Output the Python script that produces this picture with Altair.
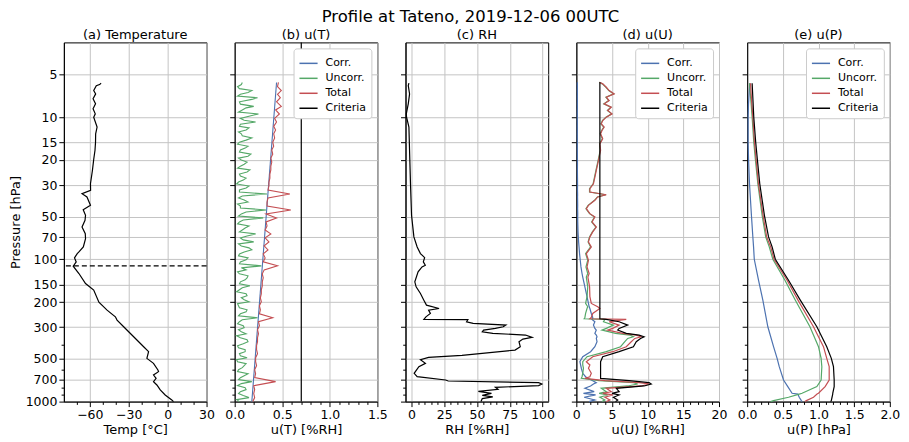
import altair as alt
import pandas as pd

# ------------------------------------------------------------------ text
TITLE = "Profile at Tateno, 2019-12-06 00UTC"
PANEL_TITLES = ["(a) Temperature", "(b) u(T)", "(c) RH", "(d) u(U)", "(e) u(P)"]
X_TITLES = ["Temp [°C]", "u(T) [%RH]", "RH [%RH]", "u(U) [%RH]", "u(P) [hPa]"]
Y_TITLE = "Pressure [hPa]"
SERIES = ["Corr.", "Uncorr.", "Total", "Criteria"]
SERIES_COLORS = ["#4C72B0", "#55A868", "#C44E52", "#000000"]

# ------------------------------------------------------------------ ticks
Y_MAJOR = [5, 10, 15, 20, 30, 50, 70, 100, 150, 200, 300, 500, 700, 1000]
Y_MINOR = [400, 600, 800, 900]
XA_MAJOR = [-60, -30, 0, 30]
XA_MINOR = [-70, -50, -40, -20, -10, 10, 20]
XB_MAJOR = [0.0, 0.5, 1.0, 1.5]
XB_MINOR = [0.1, 0.2, 0.3, 0.4, 0.6, 0.7, 0.8, 0.9, 1.1, 1.2, 1.3, 1.4]
XC_MAJOR = [0, 25, 50, 75, 100]
XC_MINOR = [5, 10, 15, 20, 30, 35, 40, 45, 55, 60, 65, 70, 80, 85, 90, 95]
XD_MAJOR = [0, 5, 10, 15, 20]
XD_MINOR = [1, 2, 3, 4, 6, 7, 8, 9, 11, 12, 13, 14, 16, 17, 18, 19]
XE_MAJOR = [0.0, 0.5, 1.0, 1.5, 2.0]
XE_MINOR = [0.1, 0.2, 0.3, 0.4, 0.6, 0.7, 0.8, 0.9, 1.1, 1.2, 1.3, 1.4, 1.6, 1.7, 1.8, 1.9]

# ------------------------------------------------------------------ (a) temperature
P_T = [5.77, 5.9, 6.0, 6.5, 6.86, 7.43, 8.06, 8.74, 9.48, 10.0, 11.75, 13.1, 15.0, 17.1,
       19.8, 23.7, 29.4, 32.7, 34.5, 36.4, 41.7, 44.7, 49.0, 53.1, 59.2, 65.9, 71.4, 81.7,
       88.6, 91.0, 97.6, 104.2, 111.7, 125.7, 147.9, 164.5, 199.9, 227.4, 253.4, 267.3,
       297.8, 349.9, 411.2, 445.7, 496.6, 538.3, 599.8, 615.7, 650.0, 686.0, 724.0, 764.0,
       828.0, 898.0, 973.0, 1000.0]
TEMP = [-51.3, -52.5, -55.0, -57.0, -55.5, -57.5, -55.6, -57.5, -55.8, -57.0, -54.4, -55.5,
        -55.6, -56.0, -57.0, -58.0, -59.5, -59.4, -66.0, -62.2, -59.5, -65.1, -63.3, -63.7,
        -66.0, -63.5, -63.3, -65.0, -68.4, -69.7, -71.8, -70.5, -72.8, -68.4, -63.3, -57.0,
        -53.0, -46.7, -40.3, -39.0, -33.9, -26.2, -18.5, -14.7, -16.0, -10.9, -7.5, -7.0,
        -10.9, -8.9, -10.9, -8.3, -5.7, -1.9, 3.2, 4.5]
TROPOPAUSE = [111.0]

# ------------------------------------------------------------------ (b) u(T)
P_B = [1000, 937.4, 878.7, 823.7, 772.1, 723.8, 678.5, 636.0, 596.2, 558.9, 523.9, 491.1,
       460.3, 431.5, 404.5, 379.2, 355.4, 333.2, 312.3, 292.8, 274.4, 257.3, 241.2, 226.1,
       211.9, 198.7, 186.2, 174.6, 163.6, 153.4, 143.8, 134.8, 126.4, 118.5, 111.0, 104.1,
       97.6, 91.5, 85.7, 80.4, 75.3, 70.6, 66.2, 62.1, 58.2, 54.5, 51.1, 47.9, 44.9, 42.1,
       39.5, 37.0, 34.7, 32.5, 30.5, 28.6, 26.8, 25.1, 23.5, 22.1, 20.7, 19.4, 18.2, 17.0,
       16.0, 15.0, 14.0, 13.1, 12.3, 11.6, 10.8, 10.2, 9.5, 8.9, 8.4, 7.8, 7.3, 6.9, 6.5,
       6.1, 5.7]
P_B_MID = [968.2, 907.6, 850.7, 797.5, 747.6, 700.8, 656.9, 615.8, 577.3, 541.1, 507.2, 475.5,
           445.7, 417.8, 391.6, 367.1, 344.1, 322.6, 302.4, 283.5, 265.7, 249.1, 233.5, 218.9,
           205.2, 192.3, 180.3, 169.0, 158.4, 148.5, 139.2, 130.5, 122.4, 114.7, 107.5, 100.8,
           94.5, 88.6, 83.0, 77.8, 72.9, 68.4, 64.1, 60.1, 56.3, 52.8, 49.5, 46.4, 43.5, 40.8,
           38.2, 35.8, 33.6, 31.5, 29.5, 27.7, 25.9, 24.3, 22.8, 21.4, 20.0, 18.8, 17.6, 16.5,
           15.5, 14.5, 13.5, 12.7, 11.9, 11.2, 10.5, 9.8, 9.2, 8.6, 8.1, 7.5, 7.1, 6.7, 6.3, 5.9]
UT_UNCORR = [0.05, 0.15, 0.04, 0.12, 0.03, 0.18, 0.06, 0.14, 0.04, 0.10, 0.03, 0.13, 0.05,
             0.11, 0.03, 0.14, 0.06, 0.12, 0.04, 0.09, 0.05, 0.24, 0.06, 0.13, 0.04, 0.15,
             0.07, 0.12, 0.05, 0.16, 0.06, 0.13, 0.05, 0.12, 0.28, 0.06, 0.14, 0.05, 0.18,
             0.07, 0.20, 0.06, 0.22, 0.08, 0.15, 0.05, 0.30, 0.07, 0.33, 0.06, 0.14, 0.04,
             0.34, 0.05, 0.15, 0.04, 0.12, 0.05, 0.16, 0.06, 0.13, 0.04, 0.17, 0.06, 0.14,
             0.05, 0.18, 0.07, 0.12, 0.05, 0.22, 0.06, 0.25, 0.08, 0.20, 0.05, 0.24, 0.06,
             0.18, 0.03, 0.08]
UT_UNCORR_MID = [0.02, 0.09, 0.06, 0.11, 0.07, 0.04, 0.10, 0.03, 0.08, 0.12, 0.02, 0.06, 0.11,
                 0.04, 0.09, 0.13, 0.02, 0.07, 0.10, 0.03, 0.08, 0.04, 0.12, 0.05, 0.03, 0.10,
                 0.13, 0.02, 0.08, 0.05, 0.11, 0.14, 0.03, 0.07, 0.05, 0.12, 0.04, 0.10, 0.15,
                 0.04, 0.09, 0.13, 0.05, 0.11, 0.03, 0.09, 0.04, 0.12, 0.06, 0.03, 0.10, 0.08,
                 0.05, 0.12, 0.02, 0.09, 0.06, 0.13, 0.03, 0.10, 0.07, 0.14, 0.05, 0.11, 0.03,
                 0.12, 0.08, 0.04, 0.15, 0.06, 0.10, 0.16, 0.04, 0.12, 0.06, 0.18, 0.03, 0.14,
                 0.05, 0.07]
UT_TOTAL = [0.19, 0.21, 0.20, 0.21, 0.20, 0.43, 0.21, 0.22, 0.21, 0.23, 0.22, 0.22, 0.24,
            0.23, 0.23, 0.24, 0.24, 0.25, 0.24, 0.26, 0.25, 0.40, 0.26, 0.27, 0.26, 0.28,
            0.27, 0.28, 0.28, 0.29, 0.29, 0.30, 0.29, 0.31, 0.45, 0.30, 0.32, 0.30, 0.35,
            0.31, 0.36, 0.32, 0.38, 0.32, 0.34, 0.33, 0.44, 0.33, 0.59, 0.34, 0.34, 0.35,
            0.58, 0.35, 0.36, 0.36, 0.37, 0.37, 0.38, 0.38, 0.39, 0.38, 0.40, 0.39, 0.41,
            0.40, 0.42, 0.41, 0.43, 0.41, 0.44, 0.42, 0.47, 0.43, 0.49, 0.44, 0.48, 0.45,
            0.49, 0.45, 0.46]
P_B_CORR = [1000, 5.7]
UT_CORR = [0.18, 0.44]
UT_CRITERIA = [0.7]

# ------------------------------------------------------------------ (c) RH
P_RH = [5.77, 6.0, 6.86, 8.06, 9.48, 10.0, 11.75, 20.1, 29.4, 49.0, 69.5, 81.7, 91.0, 97.1,
        104.0, 109.9, 112.9, 122.4, 143.8, 156.0, 173.8, 193.5, 209.7, 221.4, 227.4, 240.0,
        253.4, 264.4, 265.5, 274.6, 282.0, 289.7, 297.8, 305.7, 314.1, 322.7, 331.4, 340.5,
        353.7, 363.2, 379.2, 411.2, 434.0, 472.6, 488.6, 507.4, 538.3, 568.1, 632.4, 668.4,
        704.6, 716.1, 735.0, 751.6, 772.2, 793.3, 819.6, 846.5, 874.3, 902.9, 927.4, 952.8,
        1000.0]
RH = [-2.0, -2.5, -1.5, -2.5, -4.0, -3.8, -2.0, -1.3, -0.8, 0.0, 1.8, 4.3, 6.8, 10.0, 9.0,
      10.5, 8.0, 5.0, 2.5, 3.5, 6.8, 9.4, 11.4, 21.0, 13.0, 14.4, 11.0, 9.4, 43.0, 42.0, 47.0,
      72.0, 70.0, 64.0, 55.0, 54.0, 62.0, 87.0, 92.0, 85.0, 82.0, 83.0, 79.0, 38.5, 13.0, 6.8,
      10.6, 5.6, 2.0, 4.3, 26.0, 28.0, 97.0, 99.5, 97.0, 64.0, 66.0, 51.0, 61.0, 54.0, 62.0,
      54.0, 53.0]

# ------------------------------------------------------------------ (d) u(U)
P_U = [5.68, 5.83, 6.16, 6.50, 6.86, 7.24, 7.64, 8.06, 8.51, 8.98, 9.48, 10.0, 10.55, 11.14,
       11.75, 12.4, 13.1, 14.2, 15.4, 17.1, 19.1, 21.3, 23.7, 26.4, 29.4, 31.8, 33.6, 35.1,
       36.4, 38.4, 41.7, 44.0, 47.7, 50.3, 54.6, 59.2, 64.1, 69.5, 75.4, 81.7, 91.0, 101.4,
       112.9, 125.7, 133.2, 156.0, 183.0, 204.0, 215.4, 221.4, 240.0, 256.0, 261.5, 264.4,
       274.6, 289.7, 305.7, 314.1, 331.4, 340.5, 349.9, 359.6, 379.2, 411.2, 445.7, 483.3,
       524.0, 552.5, 582.6, 632.4, 668.4, 686.3, 712.8, 735.5, 751.6, 776.4, 806.2, 851.0,
       874.3, 898.0, 932.4, 973.4, 1000.0]
UU_TOTAL = [3.25, 3.7, 4.2, 4.6, 5.3, 4.2, 4.6, 3.9, 4.9, 4.4, 5.0, 4.2, 3.7, 3.5, 3.9, 3.6,
            3.4, 3.7, 3.3, 3.4, 3.2, 3.0, 2.8, 2.6, 2.4, 1.9, 1.9, 4.2, 3.0, 2.6, 1.7, 1.4,
            1.9, 2.6, 2.2, 2.8, 2.3, 1.9, 1.7, 2.1, 1.4, 1.7, 1.5, 1.8, 1.62, 1.86, 1.9, 2.1,
            3.0, 3.3, 2.3, 2.1, 1.9, 7.0, 4.6, 6.0, 5.1, 4.4, 6.5, 8.4, 9.1, 8.2, 7.7, 7.0,
            5.1, 2.3, 1.4, 1.9, 1.7, 2.1, 1.9, 1.2, 4.0, 8.8, 10.2, 9.1, 4.2, 4.9, 3.7, 5.1,
            4.0, 4.7, 4.2]
UU_UNCORR = [3.2, 3.65, 4.15, 4.55, 5.25, 4.15, 4.55, 3.85, 4.85, 4.35, 4.95, 4.15, 3.65,
             3.45, 3.85, 3.55, 3.35, 3.65, 3.25, 3.35, 3.15, 2.95, 2.75, 2.55, 2.35, 1.85,
             1.85, 4.15, 2.95, 2.55, 1.65, 1.35, 1.85, 2.55, 2.15, 2.75, 2.25, 1.85, 1.65,
             2.0, 1.3, 1.6, 1.35, 1.6, 1.4, 1.6, 1.5, 1.3, 1.6, 1.5, 1.3, 1.2, 1.1, 4.0, 3.8,
             5.2, 4.2, 3.6, 5.5, 7.5, 8.0, 7.2, 6.8, 6.2, 4.2, 1.5, 0.9, 0.9, 1.0, 0.9, 0.8,
             0.7, 3.2, 8.0, 8.6, 7.2, 3.5, 4.2, 3.2, 4.4, 3.3, 4.0, 3.6]
UU_CORR = [0.15, 0.14, 0.15, 0.14, 0.15, 0.14, 0.15, 0.14, 0.15, 0.14, 0.13, 0.14, 0.13, 0.14,
           0.13, 0.14, 0.13, 0.14, 0.15, 0.14, 0.15, 0.16, 0.15, 0.16, 0.17, 0.16, 0.17, 0.18,
           0.17, 0.18, 0.19, 0.18, 0.2, 0.19, 0.2, 0.22, 0.24, 0.28, 0.32, 0.38, 0.45, 0.55,
           0.65, 0.8, 0.9, 1.2, 1.5, 1.7, 1.8, 1.9, 2.1, 2.3, 2.3, 2.2, 2.6, 2.4, 2.6, 2.8,
           2.6, 2.8, 2.9, 2.8, 2.9, 2.6, 2.0, 0.9, 0.5, 0.6, 0.7, 0.9, 1.3, 1.6, 2.3, 2.8,
           2.4, 2.0, 1.2, 2.5, 1.0, 2.7, 1.1, 2.6, 1.8]
UU_CRITERIA = [3.3] * 53 + [4.2, 6.0, 7.2, 6.0, 5.8, 7.0, 8.8, 9.5, 9.0, 8.4, 8.0, 6.0, 3.7,
                            3.4, 3.4, 3.4, 3.4, 3.4, 3.4, 7.4, 10.2, 10.5, 9.5, 5.6, 6.0,
                            5.0, 6.0, 5.2, 5.8, 5.5]

# ------------------------------------------------------------------ (e) u(P)
P_P = [5.77, 8.06, 10.0, 15.0, 20.0, 29.4, 49.0, 69.5, 81.7, 99.8, 140.3, 193.5, 297.8, 411.0,
       496.6, 568.0, 704.6, 785.0, 874.0, 885.0, 932.0, 984.0, 1000.0]
UP_CORR = [0.037, 0.019, 0.014, 0.014, 0.02, 0.033, 0.06, 0.08, 0.09, 0.10, 0.16, 0.22, 0.29,
           0.37, 0.42, 0.45, 0.51, 0.57, 0.63, 0.71, 0.73, 0.76, 0.77]
UP_UNCORR = [0.033, 0.056, 0.07, 0.093, 0.116, 0.15, 0.21, 0.26, 0.31, 0.36, 0.53, 0.676, 0.88,
             1.0, 1.037, 1.047, 1.037, 0.977, 0.77, 0.73, 0.58, 0.37, 0.33]
UP_TOTAL = [0.047, 0.065, 0.08, 0.102, 0.126, 0.158, 0.223, 0.274, 0.33, 0.377, 0.56, 0.713,
            0.93, 1.07, 1.116, 1.15, 1.15, 1.093, 1.0, 0.98, 0.93, 0.83, 0.81]
UP_CRITERIA = [0.07, 0.084, 0.093, 0.12, 0.144, 0.177, 0.242, 0.30, 0.35, 0.395, 0.58, 0.745,
               0.977, 1.116, 1.18, 1.21, 1.22, 1.22, 1.2, 1.2, 1.19, 1.18, 1.17]

# ------------------------------------------------------------------ helpers
FONT = "DejaVu Sans"
W, H = 143, 360
Y_SCALE = alt.Scale(type="log", domain=[2.98, 1000], reverse=True, nice=False)
COLOR_SCALE = alt.Scale(domain=SERIES, range=SERIES_COLORS)
LEGEND = alt.Legend(title=None, orient="top-right", offset=6, fillColor="white",
                    strokeColor="#cccccc", cornerRadius=3, padding=5, labelFontSize=11,
                    labelFont=FONT, symbolType="stroke", symbolSize=330,
                    symbolStrokeWidth=1.5, rowPadding=0, labelOffset=7)


def cond(minor, v_minor, v_major):
    return {"condition": {"test": f"indexof({minor}, datum.value) >= 0", "value": v_minor},
            "value": v_major}


def y_enc(first):
    kw = dict(values=Y_MAJOR + Y_MINOR, tickSize=cond(Y_MINOR, 2.8, 5),
              gridOpacity=cond(Y_MINOR, 0, 1), format="d")
    if first:
        ax = alt.Axis(title=Y_TITLE, labelPadding=2, titlePadding=3,
                      labelExpr=f"indexof({Y_MINOR}, datum.value) >= 0 ? '' : datum.label", **kw)
    else:
        ax = alt.Axis(title=None, labels=False, **kw)
    return alt.Y("p:Q", scale=Y_SCALE, axis=ax)


def x_enc(field, domain, major, minor, fmt, title):
    ax = alt.Axis(values=major + minor, format=fmt, title=title, labelPadding=2, titlePadding=2,
                  labelExpr=f"indexof({minor}, datum.value) >= 0 ? '' : datum.label",
                  tickSize=cond(minor, 2.8, 5), gridOpacity=cond(minor, 0, 1), labelFlush=False)
    return alt.X(f"{field}:Q", scale=alt.Scale(domain=domain, nice=False, zero=False), axis=ax)


def long_df(pairs):
    rows = []
    for name, ps, vs in pairs:
        for i, (p, v) in enumerate(zip(ps, vs)):
            rows.append({"p": p, "v": v, "s": name, "i": i})
    return pd.DataFrame(rows)


def interleave(a, b):
    out = []
    for k in range(len(a)):
        out.append(a[k])
        if k < len(b):
            out.append(b[k])
    return out


def series_layers(df, order, xenc, first=False, width=1.1):
    layers = []
    for name in order:
        layers.append(
            alt.Chart(df).transform_filter(alt.datum.s == name)
            .mark_line(strokeWidth=width)
            .encode(x=xenc, y=y_enc(first), order="i:Q",
                    color=alt.Color("s:N", scale=COLOR_SCALE, legend=LEGEND))
        )
    return layers


def ptitle(t):
    return alt.TitleParams(t, fontSize=13, font=FONT, fontWeight="normal", offset=0)


# ------------------------------------------------------------------ (a)
xa = x_enc("v", [-80, 30], XA_MAJOR, XA_MINOR, "d", X_TITLES[0])
df_a = pd.DataFrame({"p": P_T, "v": TEMP, "i": range(len(P_T))})
pa = alt.layer(
    alt.Chart(df_a).mark_line(color="black", strokeWidth=1.2).encode(x=xa, y=y_enc(True), order="i:Q"),
    alt.Chart(pd.DataFrame({"p": TROPOPAUSE})).mark_rule(color="black", strokeDash=[5, 3], strokeWidth=1.2)
    .encode(y=y_enc(True)),
).properties(width=W, height=H, title=ptitle(PANEL_TITLES[0]))

# ------------------------------------------------------------------ (b)
xb = x_enc("v", [0, 1.5], XB_MAJOR, XB_MINOR, ".1f", X_TITLES[1])
df_b = long_df([("Corr.", P_B_CORR, UT_CORR),
                ("Uncorr.", interleave(P_B, P_B_MID), interleave(UT_UNCORR, UT_UNCORR_MID)),
                ("Total", P_B, UT_TOTAL)])
crit_b = alt.Chart(pd.DataFrame({"v": UT_CRITERIA, "s": ["Criteria"]})).mark_rule(strokeWidth=1.2).encode(
    x=xb, color=alt.Color("s:N", scale=COLOR_SCALE, legend=LEGEND))
pb = alt.layer(*series_layers(df_b, ["Uncorr.", "Corr.", "Total"], xb, width=1.1), crit_b).properties(
    width=W, height=H, title=ptitle(PANEL_TITLES[1]))

# ------------------------------------------------------------------ (c)
xc = x_enc("v", [-4.6, 104.3], XC_MAJOR, XC_MINOR, "d", X_TITLES[2])
df_c = pd.DataFrame({"p": P_RH, "v": RH, "i": range(len(P_RH))})
pc = alt.Chart(df_c).mark_line(color="black", strokeWidth=1.2).encode(
    x=xc, y=y_enc(False), order="i:Q").properties(width=W, height=H, title=ptitle(PANEL_TITLES[2]))

# ------------------------------------------------------------------ (d)
xd = x_enc("v", [0, 20], XD_MAJOR, XD_MINOR, "d", X_TITLES[3])
df_d = long_df([("Corr.", P_U, UU_CORR), ("Uncorr.", P_U, UU_UNCORR), ("Total", P_U, UU_TOTAL),
                ("Criteria", P_U, UU_CRITERIA)])
pd_ = alt.layer(*series_layers(df_d, ["Corr.", "Uncorr.", "Total", "Criteria"], xd, width=1.2)).properties(
    width=W, height=H, title=ptitle(PANEL_TITLES[3]))

# ------------------------------------------------------------------ (e)
xe = x_enc("v", [0, 2.0], XE_MAJOR, XE_MINOR, ".1f", X_TITLES[4])
df_e = long_df([("Corr.", P_P, UP_CORR), ("Uncorr.", P_P, UP_UNCORR), ("Total", P_P, UP_TOTAL),
                ("Criteria", P_P, UP_CRITERIA)])
pe = alt.layer(*series_layers(df_e, ["Corr.", "Uncorr.", "Total", "Criteria"], xe, width=1.2)).properties(
    width=W, height=H, title=ptitle(PANEL_TITLES[4]))

chart = (
    alt.hconcat(pa, pb, pc, pd_, pe, spacing=28.2, bounds="flush")
    .resolve_scale(color="independent", x="independent", y="independent")
    .resolve_legend(color="independent")
    .properties(title=alt.TitleParams(TITLE, fontSize=16.5, font=FONT, fontWeight="normal",
                                      anchor="middle", align="center", offset=3, dx=16),
                padding={"left": 0, "top": 0, "right": 0, "bottom": 0})
    .configure_view(stroke="black", strokeWidth=1)
    .configure_axis(labelFont=FONT, labelFontSize=12.5, titleFont=FONT, titleFontSize=13,
                    titleFontWeight="normal", labelColor="black", titleColor="black",
                    domainColor="black", tickColor="black", gridColor="#c4c4c4", gridWidth=1)
)

chart.save("out.html", embed_options={"renderer": "svg", "actions": False})
